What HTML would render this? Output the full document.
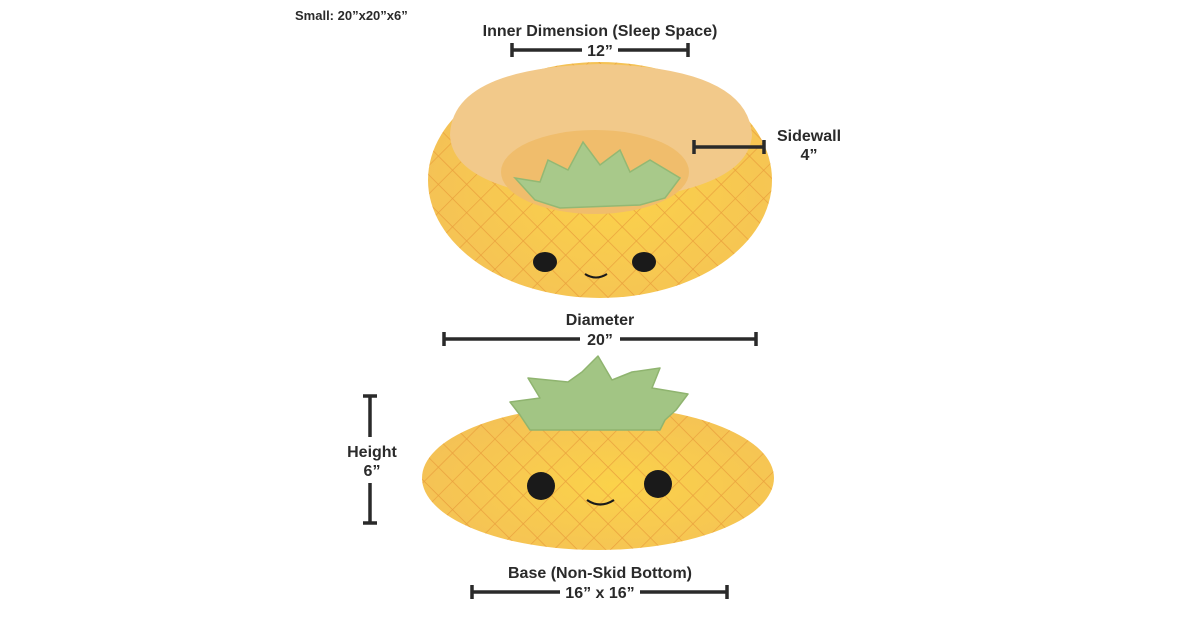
<!DOCTYPE html>
<html><head><meta charset="utf-8"><style>
html,body{margin:0;padding:0;background:#fff;}
svg{display:block;}
text{font-family:"Liberation Sans",sans-serif;font-weight:bold;fill:#2a2a2a;}
</style></head><body>
<svg width="1200" height="630" viewBox="0 0 1200 630" xmlns="http://www.w3.org/2000/svg">
<defs>
<pattern id="grid" width="20" height="20" patternUnits="userSpaceOnUse" patternTransform="rotate(45)">
<path d="M0 0H20M0 0V20" stroke="#e89a3a" stroke-width="1.4" fill="none" opacity="0.85"/>
</pattern>
<radialGradient id="yel" cx="0.55" cy="0.55" r="0.6">
<stop offset="0" stop-color="#fbd24a"/><stop offset="1" stop-color="#f4c156"/>
</radialGradient>
</defs>

<!-- top bed -->
<ellipse cx="600" cy="180" rx="172" ry="118" fill="url(#yel)"/>
<ellipse cx="600" cy="180" rx="172" ry="118" fill="url(#grid)"/>
<path d="M450 135 Q452 68 600 64 Q748 68 752 135 Q748 192 600 202 Q452 192 450 135 Z" fill="#f2c98a"/>
<ellipse cx="595" cy="172" rx="94" ry="42" fill="#f0bd6c"/>
<path d="M515 178 L540 182 L548 160 L568 170 L583 142 L600 165 L620 150 L630 172 L650 160 L680 178 L665 198 L640 205 L560 208 L535 200 Z" fill="#a8c98a" stroke="#93b873" stroke-width="1.5"/>
<ellipse cx="545" cy="262" rx="12" ry="10" fill="#1a1a1a"/>
<ellipse cx="644" cy="262" rx="12" ry="10" fill="#1a1a1a"/>
<path d="M585 274 Q596 281 607 274" stroke="#1a1a1a" stroke-width="2" fill="none"/>

<!-- bottom bed -->
<ellipse cx="598" cy="478" rx="176" ry="72" fill="url(#yel)"/>
<ellipse cx="598" cy="478" rx="176" ry="72" fill="url(#grid)"/>
<path d="M510 402 L540 398 L528 378 L568 382 L582 372 L598 356 L612 380 L632 372 L660 368 L652 388 L688 394 L676 410 L665 420 L660 430 L530 430 L520 415 Z" fill="#a2c584" stroke="#8fb46f" stroke-width="1.5" stroke-linejoin="round"/>
<ellipse cx="541" cy="486" rx="14" ry="14" fill="#1a1a1a"/>
<ellipse cx="658" cy="484" rx="14" ry="14" fill="#1a1a1a"/>
<path d="M587 500 Q600 509 614 500" stroke="#1a1a1a" stroke-width="2.2" fill="none"/>

<!-- texts -->
<text x="295" y="20" font-size="13">Small: 20”x20”x6”</text>
<text x="600" y="36" font-size="16" text-anchor="middle">Inner Dimension (Sleep Space)</text>
<text x="600" y="56" font-size="16" text-anchor="middle">12”</text>
<g stroke="#2a2a2a" stroke-width="3.5" fill="none">
<path d="M512 50H582M618 50H688M512 43V57M688 43V57"/>
<path d="M694 147H764M694 140V154M764 140V154"/>
<path d="M444 339H580M620 339H756M444 332V346M756 332V346"/>
<path d="M370 396V437M370 483V523M363 396H377M363 523H377"/>
<path d="M472 592H560M640 592H727M472 585V599M727 585V599"/>
</g>
<text x="809" y="141" font-size="16" text-anchor="middle">Sidewall</text>
<text x="809" y="160" font-size="16" text-anchor="middle">4”</text>
<text x="600" y="325" font-size="16" text-anchor="middle">Diameter</text>
<text x="600" y="345" font-size="16" text-anchor="middle">20”</text>
<text x="372" y="457" font-size="16" text-anchor="middle">Height</text>
<text x="372" y="476" font-size="16" text-anchor="middle">6”</text>
<text x="600" y="578" font-size="16" text-anchor="middle">Base (Non-Skid Bottom)</text>
<text x="600" y="598" font-size="16" text-anchor="middle">16” x 16”</text>
</svg>
</body></html>
